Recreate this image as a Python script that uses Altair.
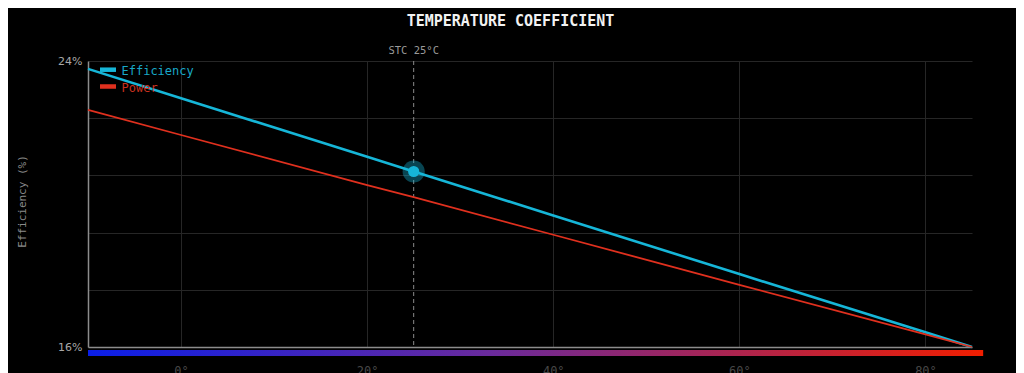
import altair as alt
import pandas as pd

# ---- data ----
temps = [-10, 0, 20, 25, 40, 60, 80, 85]
efficiency = [23.78, 22.96, 21.32, 20.91, 19.68, 18.04, 16.41, 16.0]
power = [22.63, 21.93, 20.53, 20.19, 19.14, 17.74, 16.35, 16.0]
series_names = ["Efficiency", "Power"]
series_colors = ["#16b6d8", "#e0301e"]
legend_text_colors = ["#18a8c8", "#c8301e"]
x_ticks = [0, 20, 40, 60, 80]
y_ticks = [16, 17.6, 19.2, 20.8, 22.4, 24]
stc_temp = [25]
stc_eff = [20.91]
bar_start = [-10]
bar_end = [86.2]

rows = []
for t, e, p in zip(temps, efficiency, power):
    rows.append({"temp": t, "value": e, "series": "Efficiency"})
    rows.append({"temp": t, "value": p, "series": "Power"})
lines_df = pd.DataFrame(rows)
stc_df = pd.DataFrame({"temp": stc_temp, "value": stc_eff, "label": ["STC 25°C"]})
bar_df = pd.DataFrame({"x0": bar_start, "x1": bar_end})

MONO = "DejaVu Sans Mono"

xscale = alt.Scale(domain=[-10, 85], nice=False, zero=False)
yscale = alt.Scale(domain=[16, 24], nice=False, zero=False)

x_axis = alt.Axis(
    values=x_ticks, labelExpr="datum.value + '°'", grid=True, gridColor="#262626",
    ticks=False, domainColor="#8c8c8c", domainWidth=1.5, labelColor="#474747",
    labelFont=MONO, labelFontSize=12, labelPadding=18, labelBaseline="top", title=None,
)
y_axis = alt.Axis(
    values=y_ticks,
    labelExpr="datum.value == 16 ? '16%' : (datum.value == 24 ? '24%' : '')",
    grid=True, gridColor="#262626", ticks=False, domainColor="#8c8c8c", domainWidth=1.5,
    labelColor="#a8a8a8", labelFont="DejaVu Sans", labelFontSize=11, labelPadding=6,
    labelBaseline="middle",
    title="Efficiency (%)", titleFont=MONO, titleFontSize=11, titleFontWeight="normal",
    titleColor="#8a8a8a", titleAngle=-90, titleX=-66, titleY=140,
    titleAlign="center", titleBaseline="middle",
)

gradient = alt.Gradient(
    gradient="linear", x1=0, x2=1, y1=0, y2=0,
    stops=[
        alt.GradientStop(color="#0a1ee8", offset=0),
        alt.GradientStop(color="#6a2a9c", offset=0.45),
        alt.GradientStop(color="#f01e00", offset=1),
    ],
)

bar = alt.Chart(bar_df).mark_rect(color=gradient, clip=False).encode(
    x=alt.X("x0:Q", scale=xscale, axis=x_axis),
    x2="x1:Q",
    y=alt.value(289),
    y2=alt.value(295),
)

rule = alt.Chart(stc_df).mark_rule(color="#8a8a8a", strokeDash=[4, 3], strokeWidth=1).encode(
    x=alt.X("temp:Q", scale=xscale, axis=x_axis),
)

lines = alt.Chart(lines_df).mark_line().encode(
    x=alt.X("temp:Q", scale=xscale, axis=x_axis),
    y=alt.Y("value:Q", scale=yscale, axis=y_axis),
    color=alt.Color("series:N", scale=alt.Scale(domain=series_names, range=series_colors), legend=None),
    strokeWidth=alt.StrokeWidth("series:N", scale=alt.Scale(domain=series_names, range=[2.6, 1.8]), legend=None),
    order=alt.Order("temp:Q"),
)

halo = alt.Chart(stc_df).mark_point(filled=True, shape="circle", size=490, color="#16b6d8", opacity=0.38).encode(
    x=alt.X("temp:Q", scale=xscale), y=alt.Y("value:Q", scale=yscale),
)
dot = alt.Chart(stc_df).mark_point(filled=True, shape="circle", size=125, color="#16b6d8", opacity=1).encode(
    x=alt.X("temp:Q", scale=xscale), y=alt.Y("value:Q", scale=yscale),
)

stc_label = alt.Chart(stc_df).mark_text(
    font=MONO, fontSize=10.5, color="#9a9a9a", align="center", baseline="middle"
).encode(x=alt.X("temp:Q", scale=xscale), y=alt.value(-10), text="label:N")

title = alt.Chart(pd.DataFrame({"t": ["TEMPERATURE COEFFICIENT"]})).mark_text(
    font=MONO, fontSize=15, fontWeight="bold", color="#f2f2f2", align="center", baseline="alphabetic"
).encode(x=alt.value(422.5), y=alt.value(-35), text="t:N")

legend_layers = []
for i, (name, col, tcol) in enumerate(zip(series_names, series_colors, legend_text_colors)):
    yy = 8.7 + i * 16.8
    ldf = pd.DataFrame({"name": [name]})
    legend_layers.append(
        alt.Chart(ldf).mark_rule(color=col, strokeWidth=4.5, strokeCap="butt").encode(
            x=alt.value(12), x2=alt.value(28), y=alt.value(yy)
        )
    )
    legend_layers.append(
        alt.Chart(ldf).mark_text(font=MONO, fontSize=12, color=tcol, align="left", baseline="middle").encode(
            x=alt.value(33.5), y=alt.value(yy + 1), text="name:N"
        )
    )

chart = alt.layer(bar, rule, lines, halo, dot, stc_label, title, *legend_layers).properties(
    width=884,
    height=286,
    padding={"left": 80, "top": 53, "right": 44, "bottom": 32},
    autosize=alt.AutoSizeParams(type="none"),
    background="#000000",
).configure_view(stroke=None)

chart.save("out.html", embed_options={"renderer": "svg", "actions": False})
